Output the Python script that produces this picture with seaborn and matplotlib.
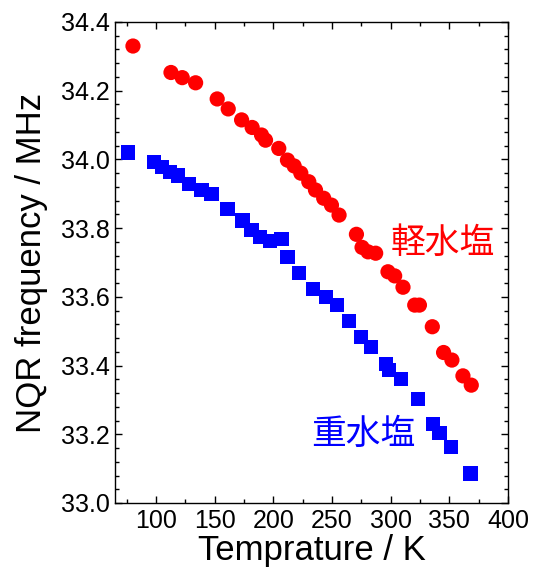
import numpy as np
import pandas as pd
import seaborn as sns
import matplotlib.pyplot as plt
from matplotlib.ticker import MultipleLocator

# Data
light_T = [80.3, 112.7, 122.3, 133.7, 152.1, 161.5, 172.9, 181.9, 189.9, 193.3,
           204.6, 212.0, 217.7, 223.4, 230.2, 235.9, 242.9, 249.5, 256.0, 270.8,
           275.6, 280.7, 287.2, 297.7, 303.4, 310.5, 320.5, 324.5, 335.5, 345.1,
           352.2, 361.6, 368.7]
light_f = [34.330, 34.253, 34.238, 34.223, 34.176, 34.147, 34.115, 34.093, 34.071, 34.056,
           34.032, 33.998, 33.981, 33.960, 33.935, 33.911, 33.887, 33.867, 33.838, 33.782,
           33.744, 33.731, 33.727, 33.673, 33.661, 33.628, 33.576, 33.576, 33.513, 33.438,
           33.416, 33.370, 33.343]

heavy_T = [76.3, 98.5, 104.8, 111.8, 118.9, 128.3, 138.7, 147.3, 160.9, 173.7,
           181.4, 188.5, 197.0, 206.9, 212.0, 221.9, 233.5, 244.6, 254.3, 264.5,
           275.0, 283.0, 295.7, 298.6, 309.1, 323.2, 336.0, 341.7, 351.1, 368.1]
heavy_f = [34.020, 33.993, 33.979, 33.964, 33.953, 33.928, 33.911, 33.899, 33.855, 33.822,
           33.795, 33.775, 33.763, 33.769, 33.715, 33.670, 33.622, 33.600, 33.576, 33.530,
           33.484, 33.455, 33.405, 33.387, 33.360, 33.302, 33.230, 33.203, 33.164, 33.086]

light = pd.DataFrame({"T": light_T, "f": light_f})
heavy = pd.DataFrame({"T": heavy_T, "f": heavy_f})

plt.rcParams["font.family"] = ["Liberation Sans", "DejaVu Sans"]

fig = plt.figure(figsize=(5.38, 5.74), dpi=100)
ax = fig.add_axes([0.2138, 0.1237, 0.7304, 0.838])

sns.scatterplot(data=light, x="T", y="f", ax=ax, color="#ff0000",
                marker="o", s=120, edgecolor="none", zorder=3)
sns.scatterplot(data=heavy, x="T", y="f", ax=ax, color="#0000ff",
                marker="s", s=105, edgecolor="none", zorder=3)

ax.set_xlim(65, 400)
ax.set_ylim(33.0, 34.4)
ax.xaxis.set_major_locator(MultipleLocator(50))
ax.xaxis.set_minor_locator(MultipleLocator(25))
ax.yaxis.set_major_locator(MultipleLocator(0.2))
ax.yaxis.set_minor_locator(MultipleLocator(0.04))
ax.yaxis.set_major_formatter(plt.FormatStrFormatter("%.1f"))

ax.tick_params(which="both", direction="in", top=True, right=True,
               labelsize=18, width=1, pad=4)
ax.tick_params(which="major", length=5)
ax.tick_params(which="minor", length=3)
for sp in ax.spines.values():
    sp.set_linewidth(1)

ax.set_xlabel("Temprature / K", fontsize=25, labelpad=1)
ax.set_ylabel("NQR frequency / MHz", fontsize=25, labelpad=9)

cjk = ["Noto Sans CJK JP", "DejaVu Sans"]
ax.text(344.5, 33.755, "軽水塩", color="#ff0000", fontsize=25, family=cjk,
        va="center", ha="center")
ax.text(277, 33.2, "重水塩", color="#0000ff", fontsize=25, family=cjk,
        va="center", ha="center")

fig.savefig("out.png", dpi=100)
